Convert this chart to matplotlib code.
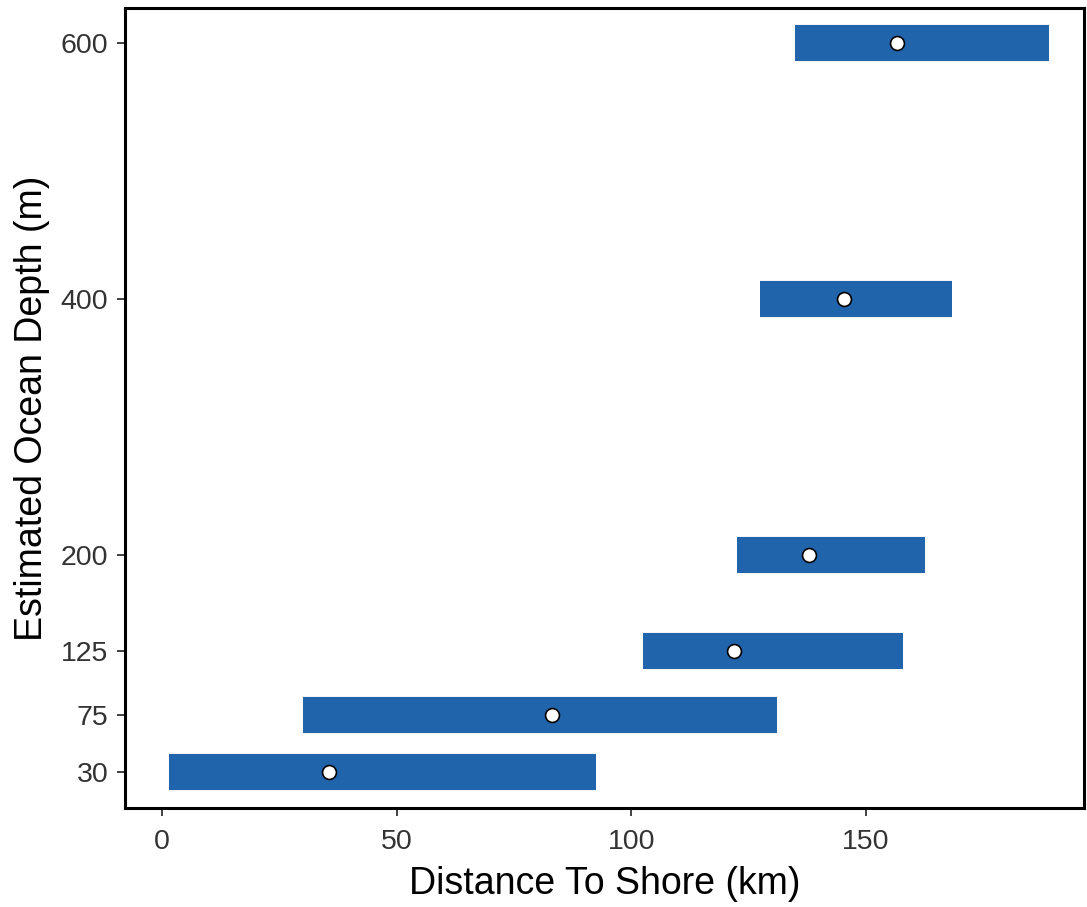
import matplotlib
matplotlib.use("Agg")
import matplotlib.pyplot as plt

plt.rcParams['font.family'] = ['Liberation Sans', 'DejaVu Sans']

depths = [30, 75, 125, 200, 400, 600]
dist_min = [1.5, 30.0, 102.5, 122.5, 127.4, 134.9]
dist_max = [92.5, 131.0, 157.9, 162.5, 168.3, 189.0]
dist_mean = [35.6, 83.1, 121.9, 137.8, 145.3, 156.6]
xticks = [0, 50, 100, 150]
yticks = [30, 75, 125, 200, 400, 600]

fig = plt.figure(figsize=(10.87, 9.07), dpi=100)
ax = fig.add_axes([0.115, 0.109, 0.882, 0.882])

ax.hlines(depths, dist_min, dist_max, color='#2064AB', linewidth=26, capstyle='butt', zorder=2)
ax.plot(dist_mean, depths, 'o', markerfacecolor='white', markeredgecolor='black',
        markersize=10, markeredgewidth=1.2, linestyle='none', zorder=3)

ax.set_xlim(-7.9, 196.4)
ax.set_ylim(1.9, 627.3)
ax.set_xticks(xticks)
ax.set_yticks(yticks)
ax.tick_params(axis='both', labelsize=20.5, labelcolor='#333333', color='#333333',
               length=6, width=1.3)
ax.tick_params(axis='x', pad=9)
ax.tick_params(axis='y', pad=6)
for s in ax.spines.values():
    s.set_linewidth(2.2)
    s.set_color('black')

ax.set_xlabel('Distance To Shore (km)', fontsize=27, labelpad=8)
ax.set_ylabel('Estimated Ocean Depth (m)', fontsize=27, labelpad=8)

fig.savefig('out.png', dpi=100)
